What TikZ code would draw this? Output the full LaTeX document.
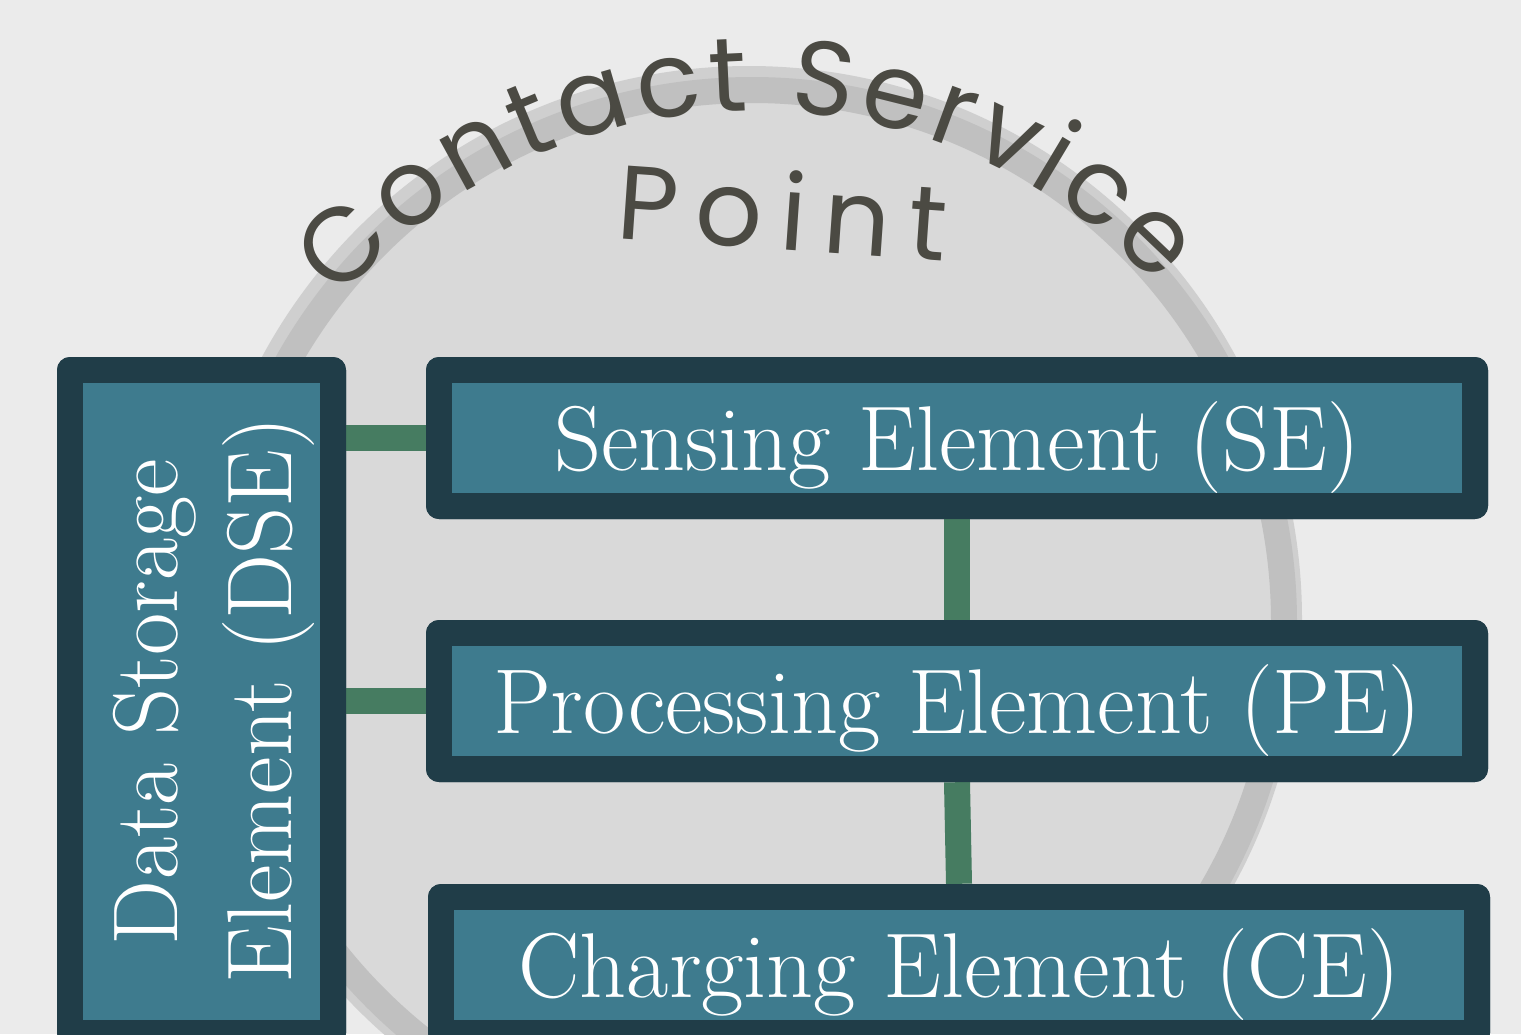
\documentclass[tikz,border=0pt]{standalone}
\usepackage{fontspec}
\newfontfamily\titlefont{Poppins}
\usetikzlibrary{decorations.text}
\definecolor{bgc}{HTML}{EBEBEB}
\definecolor{discfill}{HTML}{D9D9D9}
\definecolor{discring}{HTML}{C0C0C0}
\definecolor{dischalo}{HTML}{CFCFCF}
\definecolor{darkb}{HTML}{203D48}
\definecolor{tealc}{HTML}{3E7B8E}
\definecolor{greenc}{HTML}{467C61}
\definecolor{titlec}{HTML}{4B4A43}
\newcommand\arcfont{\titlefont\fontsize{105}{120}\selectfont}
\newcommand\boxfont{\fontsize{92}{110}\selectfont}
\begin{document}
\begin{tikzpicture}[x=1pt,y=-1pt,
  outerbox/.style={fill=darkb, rounded corners=13pt, inner sep=0pt,
    minimum width=1062pt, minimum height=162pt},
  innerbox/.style={fill=tealc, inner sep=0pt, minimum width=1010pt,
    minimum height=110pt, text=white, font=\boxfont,
    text height=85pt, text depth=21pt},
  dsetext/.style={text=white, font=\boxfont, rotate=90, anchor=base, inner sep=0pt},
  conn/.style={draw=greenc, line width=26pt}]
\useasboundingbox (0,0) rectangle (1521,1034);
\clip (0,0) rectangle (1521,1034);
\fill[bgc] (0,0) rectangle (1521,1034);
% disc
\coordinate (disc) at (752,622);
\draw[dischalo, line width=42pt] ([shift={(-3,-3)}]disc) circle[radius=532];
\fill[discfill] (disc) circle[radius=532];
\draw[discring, line width=26pt] (disc) circle[radius=532];
% title
\coordinate (arcc) at (755,661);
\path[decorate, decoration={text along path,
   text={|\arcfont|Contact Service}, text color=titlec,
   text align={fit to path}}]
   ([shift={(-139:550)}]arcc) arc[start angle=-139, end angle=-43, radius=550];
\node[font=\arcfont, text=titlec, rotate=-4, anchor=base, inner sep=0pt] (point) at (780,250) {P\,o\,i\,n\,t};
% boxes
\node[outerbox] (se) at (957,438) {};
\node[outerbox] (pe) at (957,701) {};
\node[outerbox] (ce) at (959,965) {};
\node[outerbox, minimum width=289pt, minimum height=689pt] (dse) at (201.5,701.5) {};
% connectors
\draw[conn] (se.west -| dse.east) -- (se.west);
\draw[conn] (pe.west -| dse.east) -- (pe.west);
\draw[conn] (se.south) -- (pe.north);
\draw[conn] (pe.south) -- (ce.north);
% redraw boxes on top of connector ends
\node[outerbox] (se2) at (se.center) {};
\node[outerbox] (pe2) at (pe.center) {};
\node[outerbox] (ce2) at (ce.center) {};
\node[outerbox, minimum width=289pt, minimum height=689pt] (dse2) at (dse.center) {};
\node[innerbox] (se-in) at (se.center) {Sensing Element (SE)};
\node[innerbox] (pe-in) at (pe.center) {Processing Element (PE)};
\node[innerbox] (ce-in) at (ce.center) {Charging Element (CE)};
\node[fill=tealc, inner sep=0pt, minimum width=237pt, minimum height=637pt] (dse-in) at (dse.center) {};
\node[dsetext] (dse-t1) at (177,702) {Data Storage};
\node[dsetext] (dse-t2) at (291,700) {Element (DSE)};
\end{tikzpicture}
\end{document}
